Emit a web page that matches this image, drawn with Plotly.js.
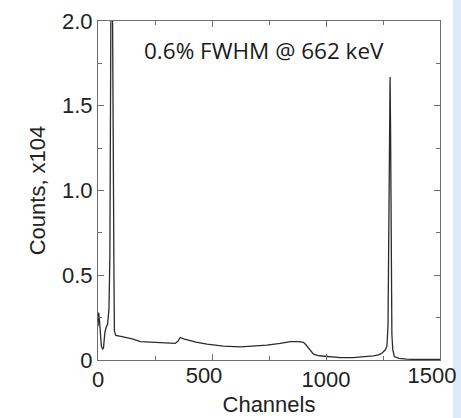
<!DOCTYPE html>
<html>
<head>
<meta charset="utf-8">
<script src="https://cdn.plot.ly/plotly-3.0.1.min.js"></script>
<style>
html,body{margin:0;padding:0;}
body{background:linear-gradient(to right, #ffffff 0px, #ffffff 453px, #dfeaf6 453px, #dfeaf6 461px);width:461px;height:418px;overflow:hidden;}
#plot{width:461px;height:418px;}
</style>
</head>
<body>
<div id="plot"></div>
<script>
// Channel numbers (x) and counts in units of 10^4 (y)
const channels = [0, 1, 3, 6, 10, 15, 20, 24, 30, 35, 42, 48, 52, 55, 57, 60, 63, 65, 68, 70, 72, 78,
  100, 150, 186, 250, 318, 339, 350, 361, 375, 391, 430, 478, 550, 624, 700, 741, 799, 843, 880, 901,
  912, 923, 935, 945, 970, 1003, 1064, 1119, 1170, 1208, 1230, 1245, 1260, 1267, 1272, 1276, 1279,
  1281, 1283, 1286, 1289, 1293, 1300, 1320, 1354, 1400, 1450, 1500];
const counts = [0.20, 0.24, 0.28, 0.24, 0.15, 0.08, 0.065, 0.07, 0.16, 0.19, 0.21, 0.30, 0.60, 1.20, 2.20, 3.00, 2.20, 1.00, 0.85, 0.50, 0.17, 0.145,
  0.14, 0.125, 0.108, 0.105, 0.098, 0.098, 0.11, 0.133, 0.125, 0.118, 0.105, 0.094, 0.082, 0.078, 0.082, 0.088, 0.098, 0.108, 0.108, 0.104,
  0.09, 0.069, 0.05, 0.034, 0.025, 0.02, 0.014, 0.014, 0.018, 0.024, 0.03, 0.04, 0.06, 0.08, 0.20, 0.70, 1.40,
  1.67, 1.40, 0.60, 0.15, 0.06, 0.02, 0.01, 0.005, 0.003, 0.003, 0.003];

const xTickVals = [0, 500, 1000, 1500];
const xTickText = ['0', '500', '1000', '1500'];
const yTickVals = [0, 0.5, 1.0, 1.5, 2.0];
const yTickText = ['0', '0.5', '1.0', '1.5', '2.0'];
const annotationText = '0.6% FWHM @ 662 keV';

// labels at 500 and 1500 sit a little left of their ticks in the reference
const shiftedIdx = [1, 3];
const xText1 = xTickText.map((t, i) => shiftedIdx.includes(i) ? '' : t);
const xVals2 = xTickVals.filter((v, i) => shiftedIdx.includes(i));
const xText2 = xTickText.filter((t, i) => shiftedIdx.includes(i));

const axisFont = {family: 'Liberation Sans, Arial, sans-serif', size: 22, color: '#222'};
const axCol = '#6e6e6e';

const trace = {
  x: channels, y: counts, type: 'scatter', mode: 'lines',
  line: {color: '#2b2b2b', width: 1.3},
  hoverinfo: 'skip'
};
// helper trace so the overlaying label axis is drawn (no visible marks)
const labelTrace = {
  x: [xTickVals[0]], y: [yTickVals[0]], xaxis: 'x2', type: 'scatter', mode: 'markers',
  marker: {opacity: 0}, hoverinfo: 'skip', showlegend: false
};

const layout = {
  width: 461, height: 418,
  margin: {l: 97.5, r: 21, t: 20.5, b: 58},
  paper_bgcolor: 'rgba(0,0,0,0)', plot_bgcolor: '#fff',
  showlegend: false,
  xaxis: {
    range: [0, 1500], showgrid: false, zeroline: false,
    showline: true, linecolor: axCol, linewidth: 1, mirror: 'ticks',
    ticks: 'inside', ticklen: 6, tickcolor: axCol, tickwidth: 1,
    tickvals: xTickVals, ticktext: xText1, tickfont: axisFont,
    ticklabeloverflow: 'allow',
    minor: {dtick: 250, ticks: 'inside', ticklen: 4, tickcolor: axCol, showgrid: false},
    title: {text: 'Channels', font: axisFont, standoff: 4}
  },
  xaxis2: {
    overlaying: 'x', anchor: 'y', side: 'bottom',
    range: [0, 1500], showgrid: false, zeroline: false, showline: false,
    ticks: '', tickvals: xVals2, ticktext: xText2, tickfont: axisFont,
    ticklabelshift: -8, ticklabeloverflow: 'allow'
  },
  yaxis: {
    range: [0, 2.0], showgrid: false, zeroline: false,
    showline: true, linecolor: axCol, linewidth: 1, mirror: 'ticks',
    ticks: 'inside', ticklen: 6, tickcolor: axCol, tickwidth: 1,
    tickvals: yTickVals, ticktext: yTickText, tickfont: axisFont,
    ticklabeloverflow: 'allow',
    minor: {dtick: 0.25, ticks: 'inside', ticklen: 4, tickcolor: axCol, showgrid: false},
    title: {text: 'Counts, x104', font: axisFont, standoff: 10}
  },
  annotations: [{
    text: annotationText, xref: 'paper', yref: 'paper',
    x: 0.485, y: 0.912, xanchor: 'center', yanchor: 'middle', showarrow: false,
    font: {family: 'Open Sans, Noto Sans, sans-serif', size: 22.5, color: '#1a1a1a'}
  }]
};

Plotly.newPlot('plot', [trace, labelTrace], layout, {displayModeBar: false, staticPlot: true});
</script>
</body>
</html>
